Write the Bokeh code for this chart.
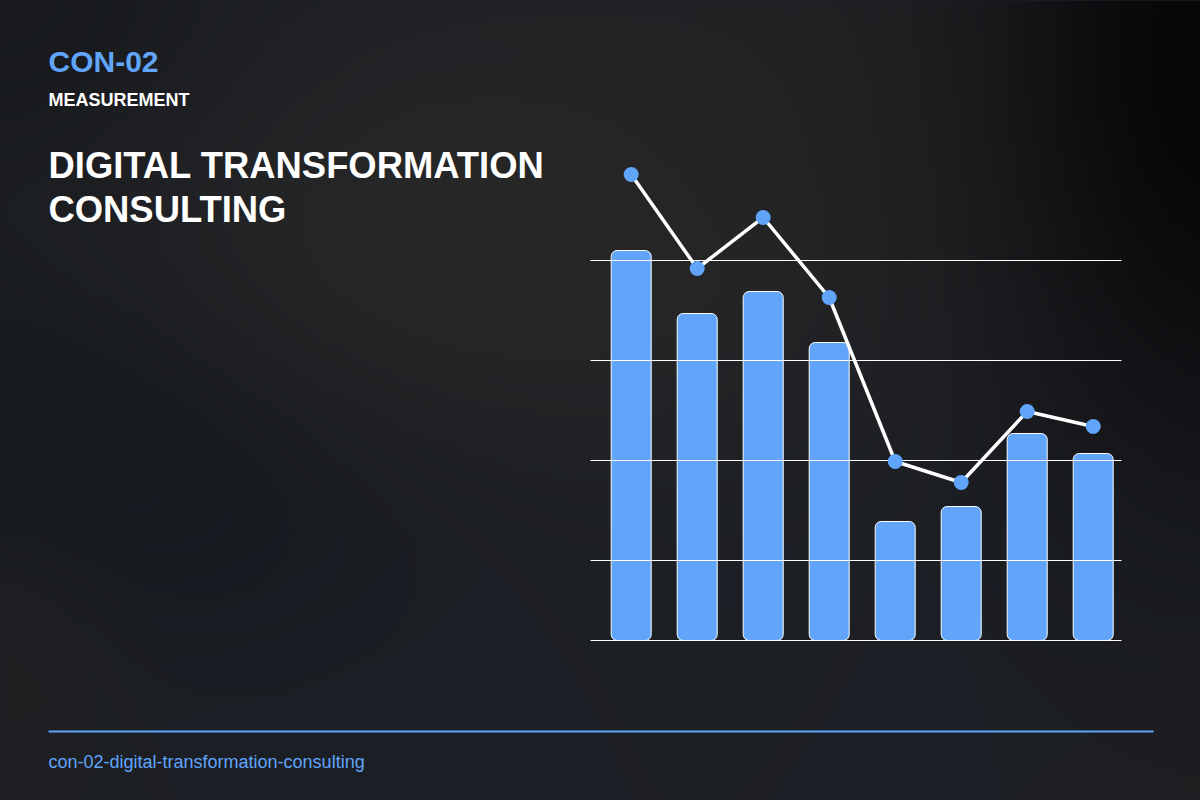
import numpy as np
from bokeh.plotting import figure
from bokeh.models import ColumnDataSource, Label, BoxAnnotation, GlobalInlineStyleSheet, Range1d
from bokeh.embed import file_html
from bokeh.resources import INLINE

# ---------------- data ----------------
categories = ["P1", "P2", "P3", "P4", "P5", "P6", "P7", "P8"]
bar_values = [82.0, 69.4, 73.8, 63.6, 27.8, 30.8, 45.4, 41.4]
line_values = [97.2, 78.4, 88.6, 72.6, 39.8, 35.6, 49.8, 46.8]
grid_ticks = [20, 40, 60, 80]
axis_base = 4

# ---------------- layout ----------------
W, H = 1200, 800
FIRST_BAR_PX = 630.7
BAR_STEP_PX = 66.0
BASE_PX = 640.0      # pixel row of the baseline (from top)
PX_PER_UNIT = 5.0
GRID_LEFT_PX, GRID_RIGHT_PX = 590.0, 1121.0

xs = list(range(len(categories)))
x0 = -FIRST_BAR_PX / BAR_STEP_PX
x1 = (W - FIRST_BAR_PX) / BAR_STEP_PX
y0 = axis_base - (H - BASE_PX) / PX_PER_UNIT
y1 = axis_base + BASE_PX / PX_PER_UNIT

p = figure(width=W, height=H, output_backend="svg", toolbar_location=None,
           x_range=Range1d(x0, x1), y_range=Range1d(y0, y1), min_border=0,
           stylesheets=[GlobalInlineStyleSheet(css="html,body{margin:0!important;padding:0;background:#1c1f24;overflow:hidden;}")])
p.axis.visible = False
p.grid.visible = False
p.outline_line_color = None
p.background_fill_color = "#1c1f24"
p.border_fill_color = "#1c1f24"

# ---------------- background gradient ----------------
nx, ny = 240, 160
gx = np.linspace(0, W, nx)[None, :]
gy = np.linspace(0, H, ny)[:, None]
rgb = np.zeros((ny, nx, 3)) + np.array([0x1c, 0x1f, 0x25], float)

def blob(cx, cy, sx, sy, col, strength=1.0):
    global rgb
    a = strength * np.exp(-(((gx - cx) / sx) ** 2 + ((gy - cy) / sy) ** 2))
    a = a[..., None]
    rgb = rgb * (1 - a) + np.array(col, float) * a

blob(120, 420, 330, 200, [0x12, 0x16, 0x1c], 0.95)
blob(520, 230, 420, 230, [0x28, 0x28, 0x28], 1.0)
blob(820, 120, 300, 200, [0x24, 0x24, 0x24], 0.7)
blob(0, 680, 120, 150, [0x22, 0x22, 0x22], 0.6)
blob(1230, 60, 230, 400, [0x06, 0x06, 0x06], 1.0)
blob(0, 0, 200, 160, [0x16, 0x18, 0x1a], 0.8)
blob(1200, 800, 150, 150, [0x1e, 0x1e, 0x1f], 0.6)

img = np.zeros((ny, nx), dtype=np.uint32)
view = img.view(dtype=np.uint8).reshape((ny, nx, 4))
view[..., :3] = np.clip(rgb, 0, 255).astype(np.uint8)[::-1]
view[..., 3] = 255
p.image_rgba(image=[img], x=x0, y=y0, dw=x1 - x0, dh=y1 - y0)

# ---------------- bars ----------------
src = ColumnDataSource(dict(x=xs, top=bar_values, line=line_values, cat=categories))
p.vbar(x="x", top="top", bottom=axis_base, width=40 / BAR_STEP_PX, source=src,
       fill_color="#60a5fa", line_color="white", line_width=1, border_radius=6)

# ---------------- grid lines ----------------
gl = (GRID_LEFT_PX - FIRST_BAR_PX) / BAR_STEP_PX
gr = (GRID_RIGHT_PX - FIRST_BAR_PX) / BAR_STEP_PX
gys = grid_ticks + [axis_base]
p.segment(x0=[gl] * len(gys), x1=[gr] * len(gys), y0=gys, y1=gys,
          line_color="white", line_width=1)

# ---------------- line ----------------
p.line(x="x", y="line", source=src, line_color="white", line_width=3.5)
p.scatter(x="x", y="line", source=src, size=15, fill_color="#60a5fa", line_color=None)

# ---------------- texts ----------------
def lab(text, top_baseline, size, color, bold=True):
    p.add_layout(Label(x=48, y=H - top_baseline, x_units="screen", y_units="screen",
                       text=text, text_font="Liberation Sans", text_font_size=f"{size}px",
                       text_font_style="bold" if bold else "normal",
                       text_color=color, text_baseline="alphabetic", text_align="left"))

lab("CON-02", 61, 30, "#60a5fa")
lab("MEASUREMENT", 99, 18, "#ffffff")
lab("DIGITAL TRANSFORMATION", 165, 36.4, "#ffffff")
lab("CONSULTING", 209, 36.4, "#ffffff")
lab("con-02-digital-transformation-consulting", 761, 18, "#60a5fa", bold=False)

p.add_layout(BoxAnnotation(left=48, right=1153, bottom=H - 732, top=H - 730,
                           left_units="screen", right_units="screen",
                           bottom_units="screen", top_units="screen",
                           fill_color="#60a5fa", fill_alpha=1, line_color=None))

open("out.html", "w").write(file_html(p, INLINE))
